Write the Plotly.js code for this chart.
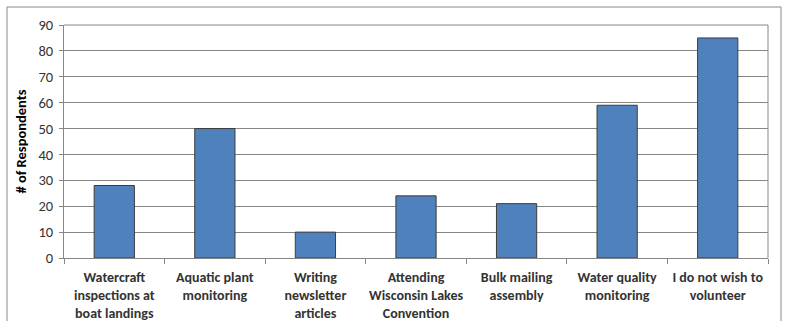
<!DOCTYPE html>
<html>
<head>
<meta charset="utf-8">
<script src="https://cdn.plot.ly/plotly-3.0.1.min.js"></script>
<style>html,body{margin:0;padding:0;background:#fff;}#chart{width:785px;height:321px;}</style>
</head>
<body>
<div id="chart"></div>
<script>
const categories = [
  "Watercraft<br>inspections at<br>boat landings",
  "Aquatic plant<br>monitoring",
  "Writing<br>newsletter<br>articles",
  "Attending<br>Wisconsin Lakes<br>Convention",
  "Bulk mailing<br>assembly",
  "Water quality<br>monitoring",
  "I do not wish to<br>volunteer"
];
const respondents = [28, 50, 10, 24, 21, 59, 85];
const yTicks = [0, 10, 20, 30, 40, 50, 60, 70, 80, 90];

const W = 785, H = 321;
const m = {l: 64, r: 17, t: 25, b: 63};
const pw = W - m.l - m.r, ph = H - m.t - m.b;
const px = v => (v - m.l) / pw;
const py = v => (H - m.b - v) / ph;

const font = "Carlito, Calibri, 'Open Sans', sans-serif";

Plotly.newPlot('chart', [{
  type: 'bar',
  x: categories,
  y: respondents,
  marker: {color: '#4F81BD', line: {color: '#3C3C3C', width: 1}},
  hoverinfo: 'x+y'
}], {
  width: W, height: H,
  margin: m,
  paper_bgcolor: '#fff', plot_bgcolor: '#fff',
  bargap: 0.6,
  showlegend: false,
  font: {family: font, color: '#404040'},
  xaxis: {
    type: 'category',
    showline: true, linecolor: '#868686', linewidth: 1,
    ticks: 'outside', ticklen: 5, tickcolor: '#868686',
    tickson: 'boundaries',
    tickangle: 0,
    ticklabelstandoff: 6,
    tickfont: {size: 14, family: font, color: '#333', weight: 'bold'},
    showgrid: false
  },
  yaxis: {
    range: [0, 90],
    tickvals: yTicks,
    showline: true, linecolor: '#868686', linewidth: 1,
    ticks: 'outside', ticklen: 4, tickcolor: '#868686',
    ticklabelstandoff: 3,
    gridcolor: '#868686', gridwidth: 1,
    zeroline: false,
    tickfont: {size: 14.5, family: font, color: '#333'},
    title: {text: '# of Respondents', font: {size: 14.5, family: font, color: '#000', weight: 'bold'}, standoff: 8}
  },
  shapes: [
    {type: 'line', xref: 'paper', yref: 'paper', x0: px(64), x1: px(768), y0: 1, y1: 1, line: {color: '#868686', width: 1}},
    {type: 'line', xref: 'paper', yref: 'paper', x0: 1, x1: 1, y0: 0, y1: 1, line: {color: '#868686', width: 1}},
    {type: 'rect', xref: 'paper', yref: 'paper', x0: px(7), x1: px(781), y0: py(7), y1: py(330), line: {color: '#888', width: 1}, fillcolor: 'rgba(0,0,0,0)'}
  ]
}, {displayModeBar: false, staticPlot: true});
</script>
</body>
</html>
